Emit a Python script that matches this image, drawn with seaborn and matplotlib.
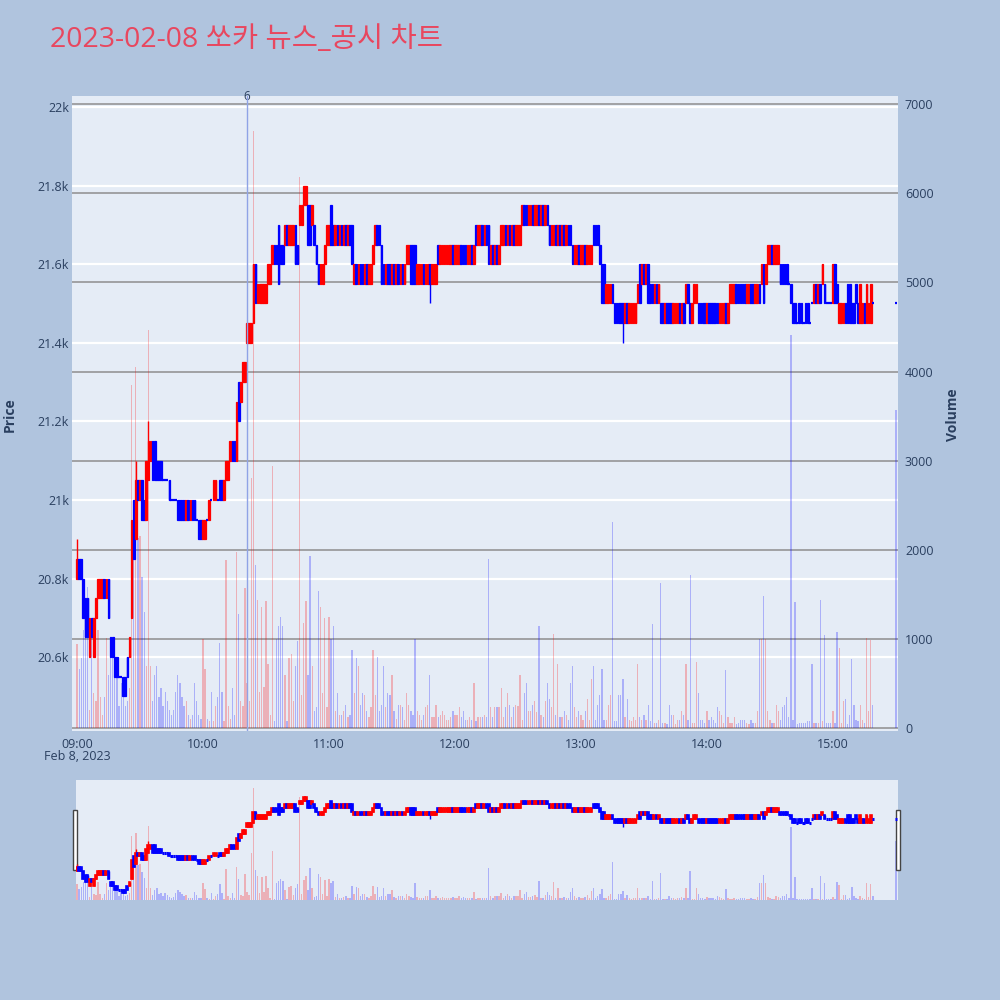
import numpy as np
import pandas as pd
import matplotlib
matplotlib.use("Agg")
import matplotlib.pyplot as plt
from matplotlib.patches import Rectangle
import seaborn as sns

title = "2023-02-08 쏘카 뉴스_공시 차트"

# prices are stored as ticks above 20,500 won (1 tick = 50 won), one candle per minute from 09:00
base_price = 20500
tick_size = 50

open_ticks = [
    6, 7, 7, 6, 5, 5, 2, 4, 2, 4,
    5, 5, 5, 6, 5, 6, 3, 3, 2, 2,
    1, 1, 1, 1, 2, 2, 4, 10, 8, 11,
    10, 11, 10, 9, 11, 12, 13, 13, 12, 12,
    12, 11, 11, 11, 11, 10, 10, 10, 10, 10,
    10, 10, 9, 10, 9, 10, 10, 9, 9, 9,
    8, 8, 9, 9, 10, 10, 10, 10, 11, 11,
    10, 11, 11, 12, 13, 13, 12, 16, 15, 16,
    16, 18, 18, 18, 19, 22, 20, 20, 20, 20,
    20, 21, 21, 22, 23, 23, 24, 23, 23, 23,
    24, 23, 23, 23, 24, 23, 24, 24, 25, 25,
    25, 25, 24, 24, 23, 22, 21, 21, 22, 23,
    23, 25, 24, 23, 24, 23, 24, 23, 24, 23,
    24, 24, 21, 22, 21, 22, 22, 21, 22, 21,
    21, 22, 23, 24, 24, 23, 22, 21, 22, 22,
    21, 22, 21, 22, 21, 22, 21, 22, 22, 23,
    23, 23, 21, 21, 21, 22, 21, 21, 22, 21,
    21, 21, 23, 22, 22, 22, 22, 22, 22, 23,
    22, 22, 22, 23, 23, 23, 22, 22, 23, 22,
    24, 23, 23, 24, 23, 24, 24, 22, 23, 22,
    23, 22, 23, 23, 24, 23, 24, 23, 24, 23,
    23, 23, 24, 25, 25, 24, 24, 25, 24, 24,
    25, 24, 25, 24, 25, 24, 23, 23, 24, 23,
    24, 23, 24, 23, 24, 24, 23, 22, 22, 23,
    22, 22, 23, 22, 22, 22, 24, 24, 24, 23,
    22, 22, 20, 20, 20, 21, 20, 20, 20, 20,
    20, 19, 20, 19, 19, 19, 19, 20, 22, 21,
    22, 21, 22, 21, 21, 20, 21, 20, 20, 20,
    19, 20, 20, 20, 19, 19, 19, 20, 19, 20,
    20, 21, 20, 19, 20, 20, 20, 20, 20, 20,
    19, 20, 20, 20, 20, 20, 19, 19, 19, 20,
    19, 20, 20, 20, 21, 21, 21, 21, 21, 20,
    20, 21, 21, 20, 20, 21, 21, 22, 21, 22,
    22, 23, 22, 22, 22, 22, 22, 22, 22, 21,
    21, 20, 20, 19, 20, 20, 19, 20, 20, 19,
    20, 20, 21, 20, 21, 21, 21, 20, 20, 20,
    20, 22, 21, 19, 19, 19, 20, 21, 21, 20,
    20, 21, 20, 19, 19, 20, 19, 19, 19, 20,
    None, None, None, None, None, None, None, None, None, None,
    20,
]

close_ticks = [
    7, 6, 6, 4, 3, 3, 4, 3, 4, 5,
    6, 6, 6, 5, 6, 4, 2, 2, 1, 1,
    1, 1, 0, 0, 1, 3, 9, 7, 11, 10,
    11, 9, 9, 12, 13, 13, 11, 11, 11, 11,
    11, 11, 11, 11, 10, 10, 10, 10, 9, 9,
    9, 9, 10, 9, 10, 9, 9, 9, 8, 8,
    9, 9, 9, 10, 10, 11, 11, 10, 10, 10,
    11, 12, 12, 13, 12, 12, 15, 14, 16, 17,
    17, 19, 19, 19, 22, 20, 21, 21, 21, 21,
    21, 22, 22, 23, 22, 22, 21, 22, 22, 24,
    23, 24, 24, 24, 22, 22, 25, 25, 26, 26,
    23, 23, 25, 23, 22, 21, 22, 22, 23, 24,
    24, 23, 23, 24, 23, 24, 23, 24, 23, 24,
    23, 22, 22, 21, 22, 21, 21, 22, 21, 22,
    22, 23, 24, 23, 23, 21, 21, 22, 21, 21,
    22, 21, 22, 21, 22, 21, 22, 23, 23, 21,
    21, 21, 22, 22, 22, 21, 22, 22, 21, 22,
    22, 22, 22, 23, 23, 23, 23, 23, 23, 22,
    23, 23, 23, 22, 22, 22, 23, 23, 22, 23,
    23, 24, 24, 23, 24, 23, 22, 23, 22, 23,
    22, 23, 24, 24, 23, 24, 23, 24, 23, 24,
    24, 24, 25, 24, 24, 25, 25, 24, 25, 25,
    24, 25, 24, 25, 24, 23, 24, 24, 23, 24,
    23, 24, 23, 24, 23, 23, 22, 23, 23, 22,
    23, 23, 22, 23, 23, 23, 23, 23, 23, 22,
    20, 20, 21, 21, 21, 20, 19, 19, 19, 19,
    19, 20, 19, 20, 20, 20, 20, 21, 20, 22,
    21, 22, 20, 20, 20, 21, 20, 21, 19, 19,
    20, 19, 19, 19, 20, 20, 20, 19, 20, 19,
    21, 20, 19, 20, 21, 21, 19, 19, 19, 19,
    20, 19, 19, 19, 19, 19, 20, 20, 20, 19,
    20, 21, 21, 21, 20, 20, 20, 20, 20, 21,
    21, 20, 20, 21, 21, 20, 22, 20, 22, 23,
    23, 22, 23, 23, 23, 21, 21, 21, 21, 21,
    20, 19, 19, 19, 19, 19, 19, 19, 19, 19,
    20, 21, 20, 21, 20, 22, 20, 20, 20, 20,
    22, 20, 20, 20, 20, 20, 19, 19, 19, 19,
    19, 20, 19, 21, 20, 19, 21, 20, 21, 20,
    None, None, None, None, None, None, None, None, None, None,
    20,
]

volume = [
    940, 660, 780, 1100, 1420, 1580, 200, 1100, 390, 300,
    1100, 350, 150, 350, 1010, 600, 1010, 950, 800, 600,
    250, 500, 400, 250, 300, 450, 3850, 2550, 4050, 2130,
    2150, 1700, 1300, 700, 4470, 700, 300, 600, 700, 350,
    450, 250, 400, 300, 200, 150, 200, 400, 600, 500,
    350, 250, 300, 150, 100, 150, 500, 300, 150, 100,
    1000, 660, 100, 80, 400, 80, 250, 350, 950, 400,
    80, 1890, 250, 100, 450, 150, 1970, 1280, 300, 250,
    1570, 500, 300, 2800, 6700, 1830, 1440, 400, 1360, 460,
    1420, 720, 150, 2940, 80, 1000, 1150, 1250, 1150, 600,
    80, 790, 830, 300, 700, 980, 6180, 370, 1180, 1420,
    600, 1930, 700, 190, 230, 1540, 1360, 390, 1230, 230,
    1250, 1000, 1140, 190, 390, 140, 140, 190, 260, 120,
    140, 870, 390, 780, 700, 260, 390, 370, 190, 120,
    230, 870, 370, 800, 190, 260, 700, 230, 390, 370,
    600, 190, 100, 260, 260, 230, 95, 390, 260, 190,
    140, 1000, 190, 140, 95, 140, 230, 260, 600, 120,
    120, 260, 120, 140, 190, 140, 95, 95, 120, 190,
    140, 140, 230, 120, 190, 95, 95, 120, 95, 500,
    80, 120, 120, 120, 140, 120, 1900, 230, 120, 230,
    230, 230, 450, 120, 230, 390, 260, 120, 230, 260,
    250, 600, 95, 390, 500, 190, 190, 260, 300, 180,
    1150, 140, 120, 300, 500, 330, 230, 1060, 140, 720,
    120, 120, 190, 140, 95, 500, 700, 230, 120, 190,
    140, 95, 190, 330, 95, 550, 700, 95, 260, 370,
    660, 95, 95, 260, 370, 2310, 80, 80, 370, 370,
    550, 120, 330, 95, 80, 120, 95, 720, 120, 95,
    140, 95, 260, 80, 1170, 60, 60, 95, 1630, 60,
    60, 50, 260, 140, 140, 50, 95, 95, 190, 140,
    720, 95, 1720, 60, 60, 740, 390, 95, 95, 60,
    190, 95, 120, 95, 60, 230, 190, 140, 60, 650,
    120, 60, 60, 120, 50, 60, 95, 95, 95, 60,
    50, 95, 60, 60, 190, 1000, 1000, 1480, 1000, 190,
    95, 60, 60, 260, 190, 95, 230, 260, 350, 120,
    4410, 95, 1410, 50, 60, 60, 60, 60, 80, 80,
    720, 60, 60, 60, 1440, 80, 1040, 60, 60, 60,
    190, 60, 1080, 900, 60, 300, 330, 50, 140, 770,
    260, 95, 80, 260, 95, 60, 1010, 190, 990, 260,
    None, None, None, None, None, None, None, None, None, None,
    3570,
]

# extra wicks beyond the candle body (minute -> tick)
wick_high = {0: 8, 28: 12, 34: 14}
wick_low = {168: 20, 260: 18}

news_time = "10:21"
news_label = "6"

hour_labels = ["09:00", "10:00", "11:00", "12:00", "13:00", "14:00", "15:00"]
price_ticks = [20600, 20800, 21000, 21200, 21400, 21600, 21800, 22000]
price_labels = ["20.6k", "20.8k", "21k", "21.2k", "21.4k", "21.6k", "21.8k", "22k"]
volume_ticks = [0, 1000, 2000, 3000, 4000, 5000, 6000, 7000]

UP = "#ff0000"
DOWN = "#0000ff"
TEXT = "#2a3f5f"
PLOT_BG = "#e5ecf6"
PAPER_BG = "#b0c4de"

# ---- table ----
times = pd.date_range("2023-02-08 09:00", periods=len(open_ticks), freq="min")
df = pd.DataFrame({"time": times,
                   "open_t": pd.array(open_ticks, dtype="Float64"),
                   "close_t": pd.array(close_ticks, dtype="Float64"),
                   "volume": pd.array(volume, dtype="Float64")})
df["minute"] = (df["time"] - times[0]).dt.total_seconds() / 60
df = df.dropna().reset_index(drop=True)
df["open"] = base_price + tick_size * df["open_t"].astype(float)
df["close"] = base_price + tick_size * df["close_t"].astype(float)
df["volume"] = df["volume"].astype(float)
df["high"] = df[["open", "close"]].max(axis=1)
df["low"] = df[["open", "close"]].min(axis=1)
for m, t in wick_high.items():
    df.loc[df["minute"] == m, "high"] = base_price + tick_size * t
for m, t in wick_low.items():
    df.loc[df["minute"] == m, "low"] = base_price + tick_size * t
df["up"] = df["close"] > df["open"]
df["color"] = np.where(df["up"], UP, DOWN)

news_minute = (pd.Timestamp("2023-02-08 " + news_time) - times[0]).total_seconds() / 60
hour_pos = [(pd.Timestamp("2023-02-08 " + h) - times[0]).total_seconds() / 60 for h in hour_labels]

sns.set_theme(style="white")
plt.rcParams["font.family"] = ["Open Sans", "Noto Sans CJK KR", "DejaVu Sans"]

PRICE_LIM = (20412, 22028)
VOL_LIM = (-34, 7093)


def draw_candles(ax, d, body_w=0.8, lw=0.9, doji_lw=1.6):
    body = d[d["open"] != d["close"]]
    doji = d[d["open"] == d["close"]]
    ax.vlines(d["minute"], d["low"], d["high"], colors=d["color"], lw=1.0, zorder=3)
    ax.bar(body["minute"], (body["close"] - body["open"]).abs(),
           bottom=body[["open", "close"]].min(axis=1), width=body_w,
           color=body["color"], edgecolor=body["color"], linewidth=lw, zorder=4)
    ax.hlines(doji["close"], doji["minute"] - 0.5, doji["minute"] + 0.5,
              colors=doji["color"], lw=doji_lw, zorder=4)


def draw_volume(ax, d, width=0.6):
    ax.bar(d["minute"], d["volume"], width=width, color=d["color"],
           alpha=0.25, linewidth=0, zorder=2)


fig = plt.figure(figsize=(10, 10), dpi=100, facecolor=PAPER_BG)

# ---- main chart ----
ax = fig.add_axes([0.072, 0.269, 0.826, 0.635])
axv = ax.twinx()
ax.set_zorder(2)
axv.set_zorder(1)
ax.patch.set_visible(False)
axv.patch.set_visible(True)
axv.patch.set_facecolor(PLOT_BG)

ax.set_xlim(-2.4, 391)
ax.set_ylim(*PRICE_LIM)
axv.set_ylim(*VOL_LIM)

# white price grid (drawn behind volume)
for p in price_ticks:
    f = (p - PRICE_LIM[0]) / (PRICE_LIM[1] - PRICE_LIM[0])
    axv.plot([0, 1], [f, f], transform=axv.transAxes, color="white", lw=1.6, zorder=0.5)
# grey volume grid
for v in volume_ticks:
    axv.axhline(v, color="#8e8e8e", lw=1.1, zorder=1)

draw_volume(axv, df)
draw_candles(ax, df)

ax.axvline(news_minute, color="#8fa3e6", lw=1, zorder=5)
ax.text(news_minute, 1.0, news_label, transform=ax.get_xaxis_transform(),
        ha="center", va="center", fontsize=8.5, color=TEXT, clip_on=False)

ax.set_yticks(price_ticks, price_labels)
axv.set_yticks(volume_ticks, [str(v) for v in volume_ticks])
ax.set_xticks(hour_pos, hour_labels)
ax.tick_params(axis="y", length=0, pad=2, labelsize=9, labelcolor=TEXT)
axv.tick_params(axis="y", length=0, pad=5, labelsize=9, labelcolor=TEXT)
ax.tick_params(axis="x", length=0, pad=5, labelsize=9, labelcolor=TEXT)
for a in (ax, axv):
    for s in a.spines.values():
        s.set_visible(False)
ax.grid(False)
axv.grid(False)

fig.text(0.077, 0.243, "Feb 8, 2023", ha="center", va="center", fontsize=9, color=TEXT)
fig.text(0.010, 0.585, "Price", rotation=90, ha="center", va="center",
         fontsize=10, fontweight="bold", color=TEXT)
fig.text(0.953, 0.585, "Volume", rotation=90, ha="center", va="center",
         fontsize=10, fontweight="bold", color=TEXT)
fig.text(0.05, 0.96, title, ha="left", va="center", fontsize=20.5, color="#e8475f",
         family=["Open Sans", "Noto Sans CJK KR"])

# ---- range slider ----
sl = fig.add_axes([0.076, 0.100, 0.822, 0.120])
slv = sl.twinx()
sl.set_zorder(2)
slv.set_zorder(1)
sl.patch.set_visible(False)
slv.patch.set_visible(True)
slv.patch.set_facecolor(PLOT_BG)
sl.set_xlim(-0.5, 391)
sl.set_ylim(*PRICE_LIM)
slv.set_ylim(0, 7200)
draw_volume(slv, df, width=0.7)
draw_candles(sl, df, body_w=0.9, lw=1.2, doji_lw=2.2)
for a in (sl, slv):
    a.set_xticks([])
    a.set_yticks([])
    a.grid(False)
    for s in a.spines.values():
        s.set_visible(False)

for hx in (0.073, 0.896):
    fig.patches.append(Rectangle((hx, 0.130), 0.004, 0.060, transform=fig.transFigure,
                                 facecolor="white", edgecolor="#444444", lw=1.0))

fig.savefig("out.png", dpi=100, facecolor=PAPER_BG)
